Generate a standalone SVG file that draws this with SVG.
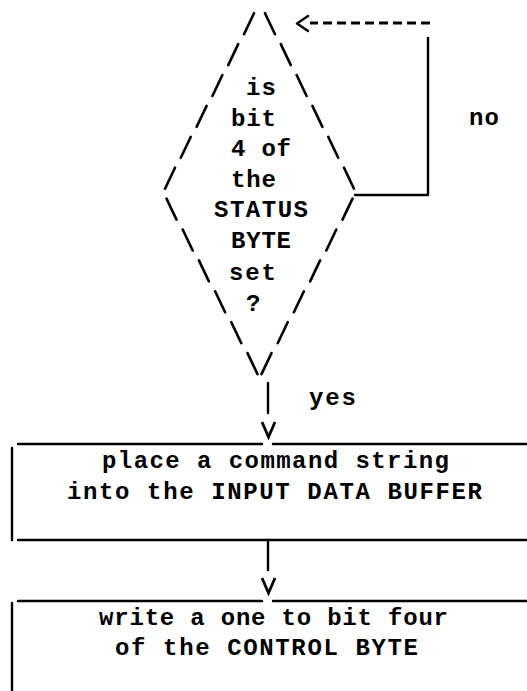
<svg xmlns="http://www.w3.org/2000/svg" width="527" height="691" viewBox="0 0 527 691">
<style>
.t{font-family:"Liberation Mono","DejaVu Sans Mono",monospace;font-size:24px;font-weight:bold;fill:#000}
.ln{stroke:#000;stroke-width:2.4;fill:none;stroke-linecap:round;stroke-linejoin:round}
.vh{stroke:#000;stroke-width:2.8;fill:none;stroke-linecap:butt;stroke-linejoin:miter}
.sl{stroke:#000;stroke-width:2.6;fill:none;stroke-linecap:round}
.dash{stroke:#000;stroke-width:3;fill:none;stroke-dasharray:9 5}
</style>
<defs>
<path id="vhead" d="M-6.5 -15L0 0L6.5 -15" class="vh"/>
</defs>
<rect width="527" height="691" fill="#fff"/>
<g id="decision">
<path class="sl" d="M244 34.2L254 13.2M228.2 65.1L238.2 44.1M212.4 96L222.4 75M196.6 126.9L206.6 105.9M180.8 157.8L190.8 136.8M165 188.7L175 167.7"/>
<path class="sl" d="M265 13.2L275 34.2M280.8 44.1L290.8 65.1M296.6 75L306.6 96M312.4 105.9L322.4 126.9M328.2 136.8L338.2 157.8M344 167.7L354 188.7"/>
<path class="sl" d="M166.5 198.6L176.5 219.6M182.7 229.5L192.7 250.5M198.9 260.4L208.9 281.4M215.1 291.3L225.1 312.3M231.3 322.2L241.3 343.2M247.5 353.1L257.5 374.1"/>
<path class="sl" d="M352.5 198.6L342.5 219.6M336.3 229.5L326.3 250.5M320.1 260.4L310.1 281.4M303.9 291.3L293.9 312.3M287.7 322.2L277.7 343.2M271.5 353.1L261.5 374.1"/>
<text class="t" x="246" y="95" textLength="30" lengthAdjust="spacing">is</text>
<text class="t" x="231" y="126" textLength="45" lengthAdjust="spacing">bit</text>
<text class="t" x="231" y="156" textLength="60" lengthAdjust="spacing">4 of</text>
<text class="t" x="231" y="187" textLength="45" lengthAdjust="spacing">the</text>
<text class="t" x="214" y="217" textLength="94" lengthAdjust="spacing">STATUS</text>
<text class="t" x="231" y="248" textLength="60" lengthAdjust="spacing">BYTE</text>
<text class="t" x="229" y="280" textLength="47" lengthAdjust="spacing">set</text>
<text class="t" x="246" y="311">?</text>
</g>
<g id="box1">
<path class="ln" d="M18 444H262M273 444H527M12 448V540M18 540H527"/>
<text class="t" x="102" y="468" textLength="347" lengthAdjust="spacing">place a command string</text>
<text class="t" x="67" y="499" textLength="415" lengthAdjust="spacing">into the INPUT DATA BUFFER</text>
</g>
<g id="box2">
<path class="ln" d="M18 601H262M273 601H527M12 603V691"/>
<text class="t" x="99" y="625" textLength="349" lengthAdjust="spacing">write a one to bit four</text>
<text class="t" x="115" y="655" textLength="303" lengthAdjust="spacing">of the CONTROL BYTE</text>
</g>
<g id="connectors">
<path class="ln" d="M355 195H428V38"/>
<path class="dash" d="M430 23H310"/>
<path class="ln" d="M308 16L297 23.5L308 31"/>
<text class="t" x="469" y="125" textLength="30" lengthAdjust="spacing">no</text>
<path class="ln" d="M268 383V413"/>
<use href="#vhead" x="268.5" y="437"/>
<text class="t" x="309" y="405" textLength="47" lengthAdjust="spacing">yes</text>
<path class="ln" d="M268 540V570"/>
<use href="#vhead" x="268.5" y="593"/>
</g>
</svg>
